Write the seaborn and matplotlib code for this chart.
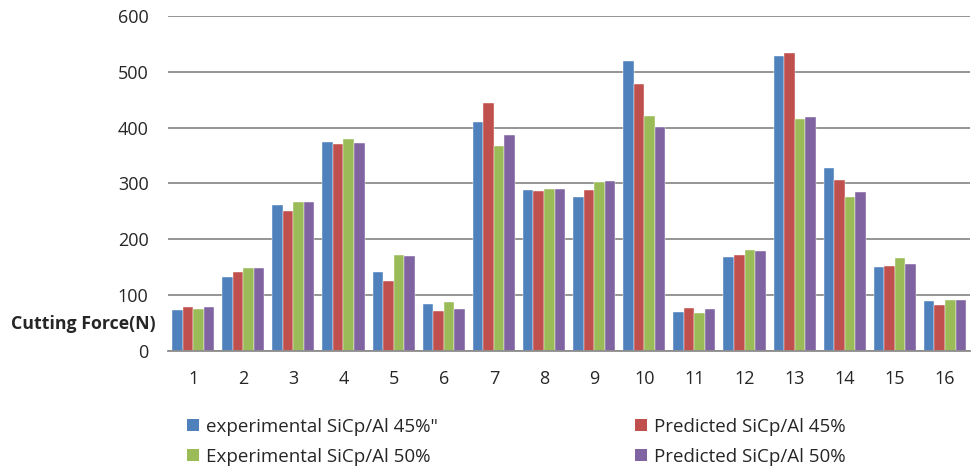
import pandas as pd
import matplotlib.pyplot as plt
import seaborn as sns
from matplotlib.patches import Patch

# values
runs = [str(i) for i in range(1, 17)]
exp_45 = [74, 133, 261, 375, 142, 84, 410, 289, 275, 519, 69, 169, 529, 327, 150, 89]
pred_45 = [78, 142, 250, 370, 126, 71, 444, 286, 289, 478, 77, 172, 534, 306, 153, 83]
exp_50 = [75, 148, 267, 379, 172, 87, 368, 291, 303, 420, 68, 181, 415, 276, 166, 91]
pred_50 = [79, 148, 266, 372, 170, 76, 386, 291, 304, 401, 75, 179, 419, 284, 155, 92]

series_names = ['experimental SiCp/Al 45%"', "Predicted SiCp/Al 45%",
                "Experimental SiCp/Al 50%", "Predicted SiCp/Al 50%"]
colors = ["#4F81BD", "#C0504D", "#9BBB59", "#8064A2"]

frames = []
for name, vals in zip(series_names, [exp_45, pred_45, exp_50, pred_50]):
    frames.append(pd.DataFrame({"run": runs, "force": vals, "series": name}))
df = pd.concat(frames, ignore_index=True)

sns.set_style("white")
plt.rcParams["font.family"] = ["Open Sans", "DejaVu Sans"]

fig = plt.figure(figsize=(9.73, 4.69), dpi=100)
ax = fig.add_axes([0.1727, 0.2516, 0.8243, 0.7143])

sns.barplot(data=df, x="run", y="force", hue="series", palette=colors,
            width=0.84, gap=0, saturation=1, errorbar=None, legend=False, ax=ax,
            edgecolor="white", linewidth=0.3)

ax.set_ylim(0, 600)
ax.set_yticks(range(0, 601, 100))
ax.set_xlim(-0.5, 15.5)
ax.yaxis.grid(True, color="#8c8c8c", linewidth=1.3)
ax.set_axisbelow(True)
for side in ["top", "right", "left"]:
    ax.spines[side].set_visible(False)
ax.spines["bottom"].set_color("#8c8c8c")
ax.spines["bottom"].set_linewidth(1.3)
ax.tick_params(axis="both", length=0, labelsize=13)
ax.tick_params(axis="y", pad=14)
ax.tick_params(axis="x", pad=14)

ax.set_xlabel("")
ax.set_ylabel("Cutting Force(N)", rotation=0, fontsize=12.8, fontweight="bold",
              ha="right", va="center")
ax.yaxis.set_label_coords(-0.016, 0.082)

# legend laid out in two columns, filled row by row like the original
order = [0, 2, 1, 3]
handles = [Patch(facecolor=colors[i], edgecolor="none") for i in order]
labels = [series_names[i] for i in order]
fig.legend(handles, labels, ncol=2, loc="lower left", bbox_to_anchor=(0.183, -0.013),
           frameon=False, fontsize=13.5, handlelength=0.64, handleheight=0.64,
           handletextpad=0.37, columnspacing=10.5, labelspacing=0.65, borderpad=0)

fig.savefig("out.png", dpi=100)
